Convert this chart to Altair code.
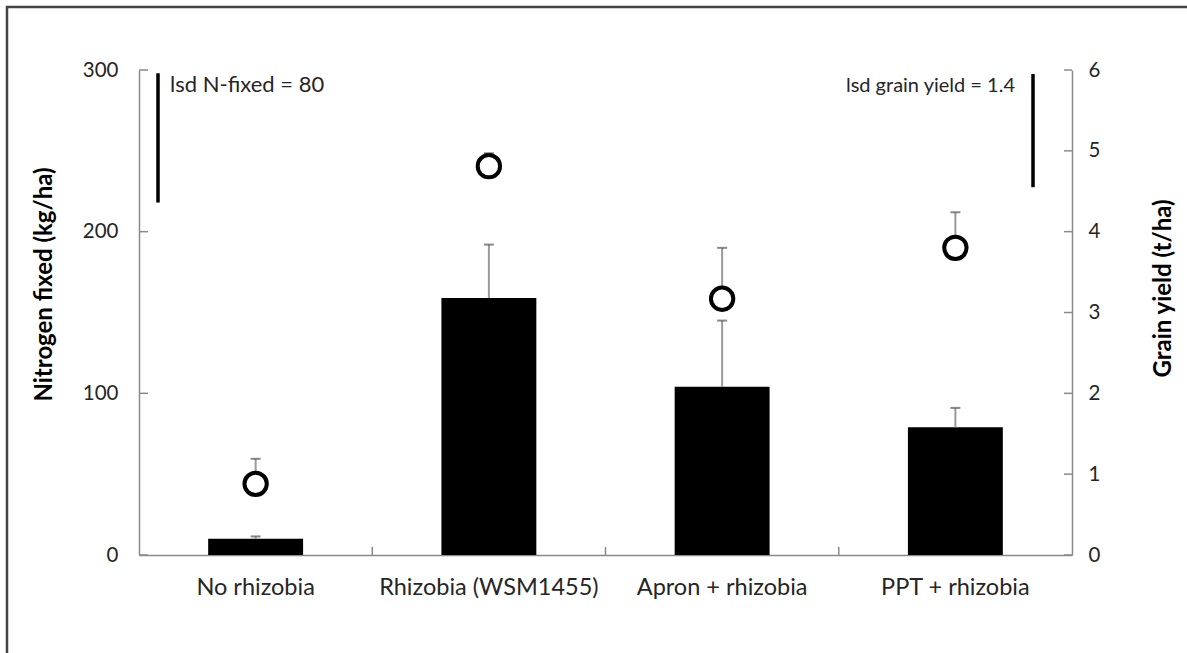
import altair as alt
import pandas as pd

categories = ["No rhizobia", "Rhizobia (WSM1455)", "Apron + rhizobia", "PPT + rhizobia"]
n_fixed = [10, 159, 104, 79]
n_fixed_upper = [11.5, 192, 145, 91]
grain_yield = [0.88, 4.81, 3.17, 3.80]
grain_upper = [1.19, 4.97, 3.80, 4.24]
left_ticks = [0, 100, 200, 300]
right_ticks = [0, 1, 2, 3, 4, 5, 6]
lsd_n_label = "lsd N-fixed = 80"
lsd_n_range = [298, 218]
lsd_g_label = "lsd grain yield = 1.4"
lsd_g_range = [5.95, 4.55]
label_pos_left = 291
label_pos_right = 5.8

W, H = 933, 485
FONT = "Lato"
AXIS_GRAY = "#8a8a8a"
TEXT = "#262626"

df = pd.DataFrame({"cat": categories, "n": n_fixed, "n_up": n_fixed_upper,
                   "g": grain_yield, "g_up": grain_upper})
bounds_df = pd.DataFrame({"cat": categories[1:]})
lt_df = pd.DataFrame({"v": left_ticks})
rt_df = pd.DataFrame({"v": right_ticks})
lsd_left_df = pd.DataFrame({"top": [lsd_n_range[0]], "bot": [lsd_n_range[1]],
                            "ty": [label_pos_left], "t": [lsd_n_label]})
lsd_right_df = pd.DataFrame({"top": [lsd_g_range[0]], "bot": [lsd_g_range[1]],
                             "ty": [label_pos_right], "t": [lsd_g_label]})
frame_df = pd.DataFrame({"a": [0]})

xscale = alt.Scale(domain=categories, paddingInner=0, paddingOuter=0)
xaxis = alt.Axis(title=None, labelAngle=0, ticks=False, domain=True,
                 domainColor=AXIS_GRAY, domainWidth=1.5, labelLimit=400,
                 labelFontSize=23.5, labelPadding=20, labelColor=TEXT)

lscale = alt.Scale(domain=[0, 300])
rscale = alt.Scale(domain=[0, 6])
laxis = alt.Axis(title="Nitrogen fixed (kg/ha)", values=left_ticks, ticks=False,
                 grid=False, domainColor=AXIS_GRAY, domainWidth=1.5,
                 labelFontSize=20.5, labelPadding=21, labelColor=TEXT,
                 titleFontSize=24, titleFontWeight="bold", titleColor="black",
                 titleAngle=270, titleBaseline="middle",
                 titleX=-95, titleY=214, format="d")
raxis = alt.Axis(title="Grain yield (t/ha)", orient="right", values=right_ticks,
                 ticks=False, grid=False, domainColor=AXIS_GRAY, domainWidth=1.5,
                 labelFontSize=20.5, labelPadding=16, labelColor=TEXT,
                 titleFontSize=24, titleFontWeight="bold", titleColor="black",
                 titleAngle=270, titleBaseline="middle",
                 titleX=91, titleY=218, format="d")


def xm():
    return alt.X("cat:N", scale=xscale, axis=xaxis)


def yl(field):
    return alt.Y(field, scale=lscale, axis=laxis)


def yr(field):
    return alt.Y(field, scale=rscale, axis=raxis)


# ---- left (nitrogen fixed) ----
bars = alt.Chart(df).mark_bar(color="black", width=alt.RelativeBandSize(0.407)).encode(
    x=xm(), y=yl("n:Q"))
bar_err = alt.Chart(df).mark_rule(color="#9a9a9a", strokeWidth=2).encode(
    x=xm(), y=yl("n:Q"), y2="n_up:Q")
bar_cap = alt.Chart(df).mark_tick(color="#555555", size=10, thickness=2, orient="horizontal").encode(
    x=xm(), y=yl("n_up:Q"))
lticks = alt.Chart(lt_df).mark_rule(color=AXIS_GRAY, strokeWidth=1.5).encode(
    y=yl("v:Q"), x=alt.value(0), x2=alt.value(9))
xticks = alt.Chart(bounds_df).mark_rule(color=AXIS_GRAY, strokeWidth=1.5).encode(
    x=alt.X("cat:N", scale=xscale, axis=xaxis, bandPosition=0),
    y=alt.value(H - 8), y2=alt.value(H))
lsd_l = alt.Chart(lsd_left_df).mark_rule(color="black", strokeWidth=3.5).encode(
    x=alt.value(19), y=yl("top:Q"), y2="bot:Q")
lsd_l_txt = alt.Chart(lsd_left_df).mark_text(align="left", baseline="middle", fontSize=22,
                                              color=TEXT, font=FONT).encode(
    x=alt.value(31), y=yl("ty:Q"), text="t:N")

left = alt.layer(bars, bar_err, bar_cap, lticks, xticks, lsd_l, lsd_l_txt)

# ---- right (grain yield) ----
g_err = alt.Chart(df).mark_rule(color="#9a9a9a", strokeWidth=2).encode(
    x=xm(), y=yr("g:Q"), y2="g_up:Q")
g_cap = alt.Chart(df).mark_tick(color="#555555", size=10, thickness=2, orient="horizontal").encode(
    x=xm(), y=yr("g_up:Q"))
g_pts = alt.Chart(df).mark_point(shape="circle", fill="white", fillOpacity=1, stroke="black",
                                 strokeWidth=4, size=500, opacity=1).encode(
    x=xm(), y=yr("g:Q"))
rticks = alt.Chart(rt_df).mark_rule(color=AXIS_GRAY, strokeWidth=1.5).encode(
    y=yr("v:Q"), x=alt.value(W - 8), x2=alt.value(W))
lsd_r = alt.Chart(lsd_right_df).mark_rule(color="black", strokeWidth=3.5).encode(
    x=alt.value(894), y=yr("top:Q"), y2="bot:Q")
lsd_r_txt = alt.Chart(lsd_right_df).mark_text(align="right", baseline="middle", fontSize=20,
                                               color=TEXT, font=FONT).encode(
    x=alt.value(876), y=yr("ty:Q"), text="t:N")

right = alt.layer(g_err, g_cap, g_pts, rticks, lsd_r, lsd_r_txt)

frame = alt.Chart(frame_df).mark_rect(fill=None, stroke="#444444", strokeWidth=2.5).encode(
    x=alt.value(-132), x2=alt.value(1100), y=alt.value(-63), y2=alt.value(700))

chart = alt.layer(left, right, frame).resolve_scale(y="independent").properties(
    width=W, height=H,
    padding={"left": 139, "top": 70, "right": 1187 - 139 - W, "bottom": 653 - 70 - H},
    autosize="none",
    background="white",
).configure_view(stroke=None).configure_axis(labelFont=FONT, titleFont=FONT)

chart.save("out.html", embed_options={"renderer": "svg", "actions": False})
